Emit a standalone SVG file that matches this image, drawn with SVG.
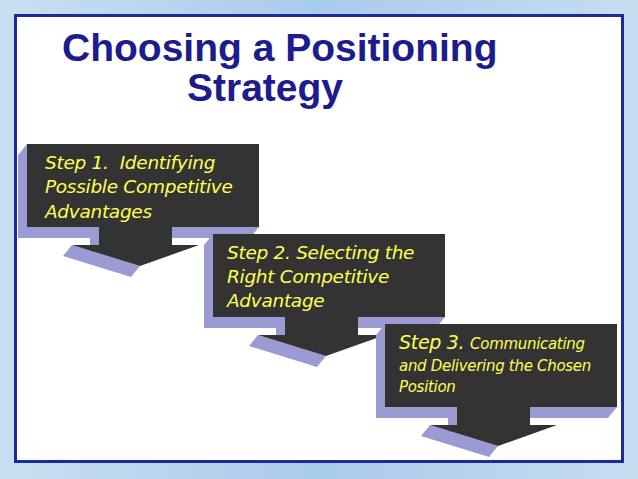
<svg xmlns="http://www.w3.org/2000/svg" width="638" height="479" viewBox="0 0 638 479">
<defs>
<linearGradient id="bg" x1="0" y1="0" x2="1" y2="0"><stop offset="0" stop-color="#c9dff2"/><stop offset="0.5" stop-color="#a9cbeb"/><stop offset="1" stop-color="#c6ddf1"/></linearGradient>
<g id="step">
<polygon points="0,0 -9,11 -9,94 223,94 232,83 0,83" fill="#9b9bd3"/>
<polygon points="63,94 72,83 72,101 63,112" fill="#9b9bd3"/>
<polygon points="45,101 36,112 104,133 113,122" fill="#9b9bd3"/>
<rect x="0" y="0" width="232" height="83" fill="#333"/>
<polygon points="72,82 145,82 145,101 172,101 113,122 45,101 72,101" fill="#333"/>
</g>
</defs>
<style>
.t{font-family:"DejaVu Sans",Verdana,sans-serif;font-style:italic;fill:#ffff55;font-size:18.5px;letter-spacing:-0.3px}
.s{font-size:15px}
.h{font-family:"Liberation Sans",Arial,sans-serif;font-weight:bold;fill:#1c1c8e;font-size:39px}
</style>
<rect width="638" height="479" fill="url(#bg)"/>
<rect x="15.5" y="15.5" width="607" height="446" fill="#fff" stroke="#1c2a9c" stroke-width="3"/>
<text class="h" x="62" y="61">Choosing a Positioning</text>
<text class="h" x="187" y="101">Strategy</text>
<g id="step1"><use href="#step" x="27" y="144"/>
<text class="t" x="45" y="169" xml:space="preserve">Step 1.  Identifying</text>
<text class="t" x="45" y="193">Possible Competitive</text>
<text class="t" x="45" y="218">Advantages</text></g>
<g id="step2"><use href="#step" x="213" y="234"/>
<text class="t" x="227" y="259">Step 2. Selecting the</text>
<text class="t" x="227" y="283">Right Competitive</text>
<text class="t" x="227" y="307">Advantage</text></g>
<g id="step3"><use href="#step" x="385" y="324"/>
<text class="t" x="399" y="349" style="font-size:19px">Step 3. <tspan class="s">Communicating</tspan></text>
<text class="t s" x="399" y="371">and Delivering the Chosen</text>
<text class="t s" x="399" y="392">Position</text></g>
<g id="connectors"/>
</svg>
